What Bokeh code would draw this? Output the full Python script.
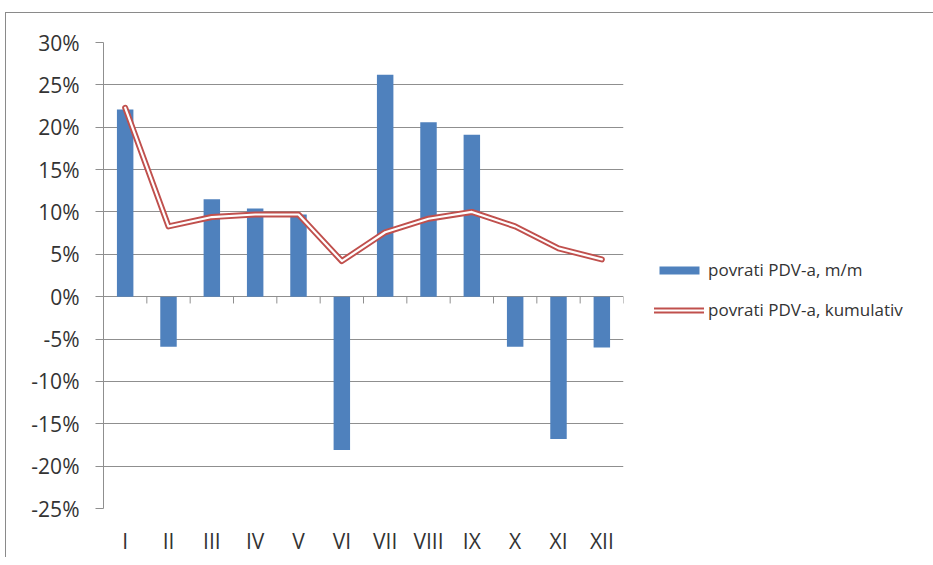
from bokeh.plotting import figure
from bokeh.models import (FactorRange, Range1d, FixedTicker, NumeralTickFormatter,
                          Legend, LegendItem, ColumnDataSource)
from bokeh.embed import file_html
from bokeh.resources import INLINE

months = ["I", "II", "III", "IV", "V", "VI", "VII", "VIII", "IX", "X", "XI", "XII"]
mm = [0.221, -0.059, 0.115, 0.104, 0.097, -0.181, 0.262, 0.206, 0.191, -0.059, -0.168, -0.060]
cumulative = [0.223, 0.083, 0.094, 0.097, 0.097, 0.042, 0.076, 0.092, 0.100, 0.083, 0.057, 0.044]
y_ticks = [-0.25, -0.20, -0.15, -0.10, -0.05, 0.0, 0.05, 0.10, 0.15, 0.20, 0.25, 0.30]
label_bars = "povrati PDV-a, m/m"
label_line = "povrati PDV-a, kumulativ"

FONT = "Open Sans"
GRID = "#8f8f8f"
BLUE = "#4f81bd"
RED = "#c0504d"
TXT = "#333333"

p = figure(x_range=FactorRange(factors=months, range_padding=0),
           y_range=Range1d(min(y_ticks), max(y_ticks)),
           frame_width=520, frame_height=466,
           min_border_left=97, min_border_right=290, min_border_top=29, min_border_bottom=36,
           output_backend="svg", toolbar_location=None,
           styles={"margin-left": "5px", "margin-top": "12px",
                   "border-left": "1px solid #8a8a8a", "border-top": "1px solid #8a8a8a"})
p.outline_line_color = None
p.background_fill_color = "white"
p.border_fill_color = "white"

src = ColumnDataSource(dict(m=months, v=mm, c=cumulative))
bars = p.vbar(x="m", top="v", bottom=0, width=0.38, source=src,
              fill_color=BLUE, line_color=None)

# category separator ticks on the zero line
seg = ColumnDataSource(dict(x0=[(m, -0.5) for m in months[1:]] + [(months[-1], 0.5)],
                            y0=[0.0] * len(months), y1=[-0.008] * len(months)))
p.segment(x0="x0", y0="y0", x1="x0", y1="y1", source=seg, line_color=GRID, line_width=1)

red = p.line(x="m", y="c", source=src, line_color=RED, line_width=6, line_join="round", line_cap="round")
white = p.line(x="m", y="c", source=src, line_color="white", line_width=2.2, line_join="round", line_cap="round")

# axes
p.yaxis.ticker = FixedTicker(ticks=y_ticks)
p.yaxis.formatter = NumeralTickFormatter(format="0%")
p.yaxis.major_label_text_font = FONT
p.yaxis.major_label_text_font_size = "21px"
p.yaxis.major_label_text_color = TXT
p.yaxis.axis_line_color = GRID
p.yaxis.major_tick_line_color = GRID
p.yaxis.major_tick_out = 8
p.yaxis.major_tick_in = 0
p.yaxis.minor_tick_line_color = None
p.yaxis.major_label_standoff = 16

p.xaxis.axis_line_color = None
p.xaxis.major_tick_line_color = None
p.xaxis.minor_tick_line_color = None
p.xaxis.major_label_text_font = FONT
p.xaxis.major_label_text_font_size = "21px"
p.xaxis.major_label_text_color = TXT
p.xaxis.major_label_standoff = 12

p.xgrid.grid_line_color = None
p.ygrid.ticker = FixedTicker(ticks=y_ticks)
p.ygrid.grid_line_color = GRID
p.ygrid.grid_line_width = 1

legend = Legend(items=[LegendItem(label=label_bars, renderers=[bars]),
                       LegendItem(label=label_line, renderers=[red, white])],
                location=(31, 187), orientation="vertical",
                glyph_width=50, glyph_height=10, label_height=20, spacing=17,
                label_text_font=FONT, label_text_font_size="17px", label_text_color=TXT,
                label_standoff=4, padding=0, margin=0,
                border_line_color=None, background_fill_alpha=0)
p.add_layout(legend, "right")

open("out.html", "w").write(file_html(p, INLINE))
